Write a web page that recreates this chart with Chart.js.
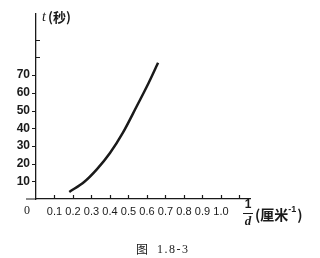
<!DOCTYPE html>
<html>
<head>
<meta charset="utf-8">
<script src="https://cdn.jsdelivr.net/npm/chart.js@4/dist/chart.umd.min.js"></script>
<style>
	html, body { margin: 0; padding: 0; background: #fff; }
	#wrap { width: 320px; height: 258px; position: relative; }
</style>
</head>
<body>
<div id="wrap"><canvas id="c"></canvas></div>
<script>
// curve: 1/d (cm^-1) vs t (s)
const invD = [0.18, 0.26, 0.33, 0.40, 0.47, 0.546, 0.60, 0.66];
const tSec = [4, 9.6, 16.9, 26, 37.5, 52.7, 63.7, 77];

const xTicks = [0.1, 0.2, 0.3, 0.4, 0.5, 0.6, 0.7, 0.8, 0.9, 1.0, 1.1];
const xLabeled = [0.1, 0.2, 0.3, 0.4, 0.5, 0.6, 0.7, 0.8, 0.9, 1.0];
const yTicksLeft = [10, 20, 30, 40, 50, 60, 70];
const yTicksRight = [80, 90];

const ink = '#1a1a1a';

const decorPlugin = {
	id: 'decor',
	afterDraw(chart) {
		const ctx = chart.ctx;
		const xs = chart.scales.x;
		const ys = chart.scales.y;
		const x0 = xs.getPixelForValue(0);
		const y0 = ys.getPixelForValue(0);
		ctx.save();
		ctx.strokeStyle = ink;
		ctx.lineWidth = 1.2;
		ctx.beginPath();
		xTicks.forEach((v) => {
			const px = Math.round(xs.getPixelForValue(v)) + 0.5;
			ctx.moveTo(px, y0);
			ctx.lineTo(px, y0 - 4);
		});
		yTicksLeft.forEach((v) => {
			const py = Math.round(ys.getPixelForValue(v)) + 0.5;
			ctx.moveTo(x0 - 4, py);
			ctx.lineTo(x0, py);
		});
		yTicksRight.forEach((v) => {
			const py = Math.round(ys.getPixelForValue(v)) + 0.5;
			ctx.moveTo(x0, py);
			ctx.lineTo(x0 + 4, py);
		});
		// x axis runs a little left of the origin
		ctx.moveTo(x0 - 10, y0);
		ctx.lineTo(x0, y0);
		ctx.stroke();

		ctx.fillStyle = ink;
		ctx.textBaseline = 'middle';
		ctx.textAlign = 'center';
		ctx.font = '12px "Liberation Serif"';
		ctx.fillText('0', x0 - 9, y0 + 12);

		// y title
		ctx.textAlign = 'left';
		ctx.font = 'italic 14px "Liberation Serif"';
		ctx.fillText('t', x0 + 6, 17);
		ctx.font = 'bold 13px "Noto Sans CJK SC"';
		ctx.fillText('(秒)', x0 + 12, 17);

		// x title: 1/d (厘米-1)
		ctx.textAlign = 'center';
		ctx.font = 'bold 12px "Liberation Sans"';
		ctx.fillText('1', 248, 205);
		ctx.beginPath();
		ctx.lineWidth = 1;
		ctx.moveTo(243, 213.5);
		ctx.lineTo(253, 213.5);
		ctx.stroke();
		ctx.font = 'italic bold 13px "Liberation Serif"';
		ctx.fillText('d', 248, 222);
		ctx.textAlign = 'left';
		ctx.font = 'bold 14px "Noto Sans CJK SC"';
		ctx.fillText('(厘米', 255, 215);
		const w = ctx.measureText('(厘米').width;
		ctx.font = 'bold 9px "Liberation Sans"';
		ctx.fillText('-1', 255 + w, 210);
		const w2 = ctx.measureText('-1').width;
		ctx.font = 'bold 14px "Noto Sans CJK SC"';
		ctx.fillText(')', 256 + w + w2, 215);

		// caption
		ctx.font = '12px "Noto Sans CJK SC"';
		ctx.fillText('图', 136, 249);
		ctx.font = '12px "Liberation Serif"';
		ctx.letterSpacing = '1.5px';
		ctx.fillText('1.8-3', 157, 250);
		ctx.restore();
	}
};

new Chart(document.getElementById('c'), {
	type: 'scatter',
	data: {
		datasets: [
			{
				data: invD.map((v, i) => ({ x: v, y: tSec[i] })),
				showLine: true,
				borderColor: ink,
				borderWidth: 2.5,
				pointRadius: 0,
				cubicInterpolationMode: 'monotone',
				fill: false
			}
		]
	},
	options: {
		responsive: true,
		maintainAspectRatio: false,
		animation: false,
		events: [],
		layout: { padding: { left: 0, top: 8, right: 70, bottom: 37 } },
		plugins: { legend: { display: false }, tooltip: { enabled: false } },
		scales: {
			x: {
				type: 'linear',
				min: 0,
				max: 1.157,
				grid: { display: false, drawTicks: false },
				border: { display: true, color: ink, width: 1.3 },
				afterFit(scale) { scale.height = 22; },
				ticks: {
					stepSize: 0.1,
					autoSkip: false,
					maxRotation: 0,
					padding: 6,
					color: ink,
					font: { family: 'Liberation Sans', size: 11 },
					callback(v) {
						const r = Math.round(v * 10) / 10;
						return xLabeled.includes(r) ? r.toFixed(1) : '';
					}
				}
			},
			y: {
				type: 'linear',
				min: 0,
				max: 105,
				grid: { display: false, drawTicks: false },
				border: { display: true, color: ink, width: 1.3 },
				afterFit(scale) { scale.width = 36; },
				ticks: {
					stepSize: 10,
					autoSkip: false,
					padding: 6,
					color: ink,
					font: { family: 'Liberation Sans', size: 12, weight: 'bold' },
					callback(v) {
						return yTicksLeft.includes(v) ? String(v) : '';
					}
				}
			}
		}
	},
	plugins: [decorPlugin]
});
</script>
</body>
</html>
